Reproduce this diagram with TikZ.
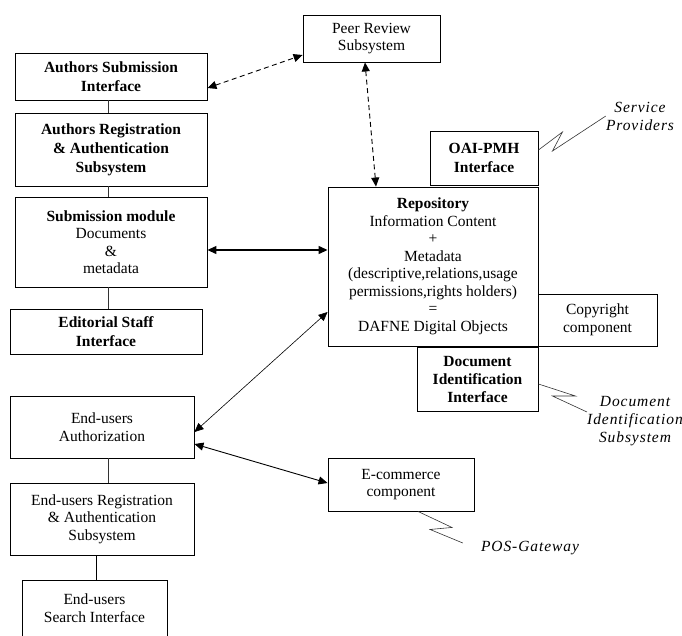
\documentclass[tikz,border=0pt]{standalone}
\usepackage{fontspec}
\setmainfont{Liberation Serif}
\usetikzlibrary{arrows.meta}

\begin{document}
\begin{tikzpicture}[x=1pt, y=-1pt,
  box/.style={draw, rectangle, line width=0.9pt, inner sep=1pt, align=center,
    font=\fontsize{15.5}{17.5}\selectfont},
  boldbox/.style={box, font=\fontsize{15.5}{19}\selectfont\bfseries},
  extlabel/.style={inner sep=0pt, align=center,
    font=\fontsize{15.5}{18}\selectfont\itshape\addfontfeatures{LetterSpace=6}},
  link/.style={line width=0.6pt, black!80},
  biarrow/.style={{Triangle[length=9pt,width=8pt]}-{Triangle[length=9pt,width=8pt]}},
  dash5/.style={dash pattern=on 5pt off 3.5pt}]
  \clip (0,0) rectangle (682,635);

  % authors side
  \node (asub) [boldbox, minimum width=192pt, minimum height=47pt] at (111,76.5) {Authors Submission\\Interface};
  \node (areg) [boldbox, minimum width=192pt, minimum height=73pt] at (111,149.5) {Authors Registration\\\& Authentication\\Subsystem};
  \node (submod) [box, minimum width=192pt, minimum height=90pt] at (111,242) {\textbf{Submission module}\\Documents\\\&\\metadata};
  \node (edit) [boldbox, minimum width=192pt, minimum height=45pt] at (106,332) {Editorial Staff\\Interface};

  % end-users side
  \node (eauth) [box, minimum width=184pt, minimum height=62pt] at (102,427) {End-users\\Authorization};
  \node (ereg) [box, minimum width=184pt, minimum height=72pt] at (102,519) {End-users Registration\\\& Authentication\\Subsystem};
  \node (esearch) [box, minimum width=145pt, minimum height=56pt] at (94.5,608) {End-users\\Search Interface};

  % repository and its parts
  \node (peer) [box, minimum width=137pt, minimum height=47pt] at (371.5,38.5) {Peer Review\\Subsystem};
  \node (oai) [boldbox, minimum width=108pt, minimum height=54pt] at (484,158) {OAI-PMH\\Interface};
  \node (repo) [box, minimum width=210pt, minimum height=159pt] at (433,266.5) {\textbf{Repository}\\Information Content\\+\\Metadata\\(descriptive,relations,usage\\permissions,rights holders)\\=\\DAFNE Digital Objects};
  \node (copy) [box, minimum width=119pt, minimum height=52pt] at (597.5,320) {Copyright\\component};
  \node (docid) [boldbox, font=\fontsize{15.5}{18}\selectfont\bfseries, minimum width=121pt, minimum height=64pt] at (477.5,379) {Document\\Identification\\Interface};
  \node (ecom) [box, minimum width=146pt, minimum height=53pt] at (401,484.5) {E-commerce\\component};

  % outside systems
  \node (sp) [extlabel] at (640,116) {Service\\Providers};
  \node (docsub) [extlabel] at (635,421) {Document\\Identification\\Subsystem};
  \node (pos) [extlabel] at (530,548) {POS-Gateway};

  % plain joins
  \draw[link] ([xshift=-3pt]asub.south) -- ([xshift=-3pt]areg.north);
  \draw[link] ([xshift=-3pt]areg.south) -- ([xshift=-3pt]submod.north);
  \draw[link] ([xshift=-3pt]submod.south) -- ([xshift=-3pt]submod.south |- edit.north);
  \draw[link] ([xshift=6pt]eauth.south) -- ([xshift=6pt]ereg.north);
  \draw[line width=0.9pt] ([xshift=-6pt]ereg.south) -- ([xshift=-6pt]ereg.south |- esearch.north);

  % arrows
  \draw[biarrow, dash5, line width=0.9pt] ([yshift=-11.5pt]asub.east) -- ([yshift=-16.5pt]peer.west);
  \draw[biarrow, dash5, line width=0.9pt] ([xshift=-6.5pt]peer.south) -- ([xshift=-57pt]repo.north);
  \draw[biarrow, line width=1.3pt] ([yshift=-8pt]submod.east) -- ([yshift=16.5pt]repo.west);
  \draw[biarrow, line width=0.6pt] ([yshift=-5pt]eauth.east) -- ([yshift=-45.5pt]repo.west);
  \draw[biarrow, line width=0.9pt] ([yshift=-17pt]eauth.east) -- ([yshift=1.5pt]ecom.west);

  % lightning links
  \draw[link] ([yshift=8pt]oai.east) -- ++(24,-18) -- ++(-10,19) -- (sp.west);
  \draw[link] ([yshift=-5pt]docid.east) -- ++(37,12) -- ++(-23,0) -- ([yshift=9pt]docsub.west);
  \draw[link] ([xshift=17pt]ecom.south) -- ++(34,16) -- ++(-22,2) -- ([xshift=-18pt,yshift=5pt]pos.west);
\end{tikzpicture}
\end{document}
